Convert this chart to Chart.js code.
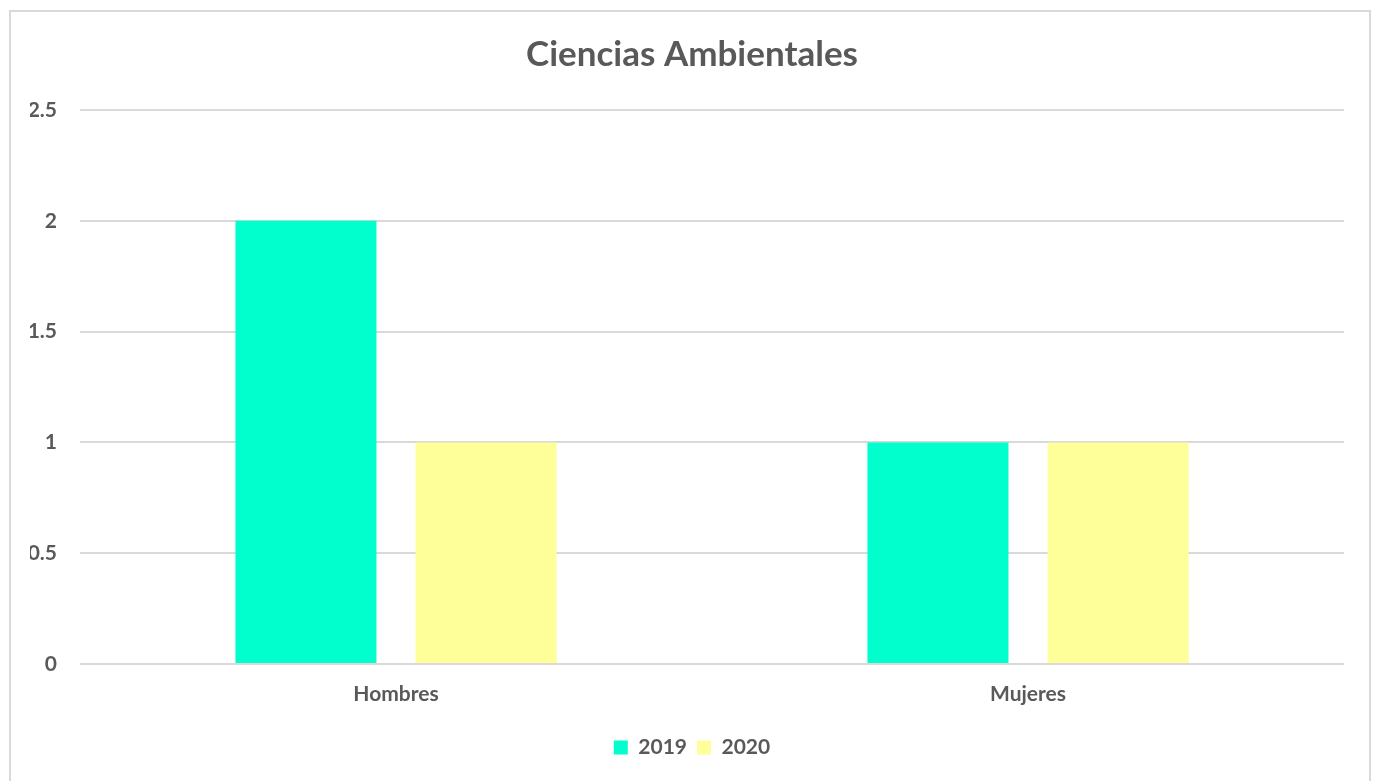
<!DOCTYPE html>
<html>
<head>
<meta charset="utf-8">
<script src="https://cdn.jsdelivr.net/npm/chart.js@4"></script>
<style>
  html, body { margin: 0; padding: 0; background: #fff; overflow: hidden; }
  #frame { position: absolute; left: 9px; top: 10px; width: 1362px; height: 790px; border: 2px solid #d9d9d9; box-sizing: border-box; }
  #wrap { position: absolute; left: 0; top: 0; width: 1377px; height: 781px; }
</style>
</head>
<body>
<div id="frame"></div>
<div id="wrap"><canvas id="chart"></canvas></div>
<script>
// datos del gráfico
const categorias = ['Hombres', 'Mujeres'];
const serie2019 = [2, 1];
const serie2020 = [1, 1];
const etiquetasSeries = ['2019', '2020'];

const gris = '#595959';
const fuente = 'Lato, "Open Sans", sans-serif';

const ctx = document.getElementById('chart').getContext('2d');
new Chart(ctx, {
    type: 'bar',
    data: {
        labels: categorias,
        datasets: [{
            label: etiquetasSeries[0],
            data: serie2019,
            backgroundColor: '#00FFCC',
            barPercentage: 0.783,
            categoryPercentage: 0.57
        }, {
            label: etiquetasSeries[1],
            data: serie2020,
            backgroundColor: '#FFFF99',
            barPercentage: 0.783,
            categoryPercentage: 0.57
        }]
    },
    options: {
        responsive: true,
        maintainAspectRatio: false,
        animation: false,
        layout: {
            padding: { left: 30, right: 23, top: 34, bottom: 13 }
        },
        plugins: {
            title: {
                display: true,
                text: 'Ciencias Ambientales',
                color: gris,
                font: { family: fuente, size: 35, weight: 'bold' },
                padding: { top: 0, bottom: 34 }
            },
            legend: {
                position: 'bottom',
                labels: {
                    color: gris,
                    boxWidth: 14,
                    boxHeight: 14,
                    padding: 10,
                    font: { family: fuente, size: 21, weight: 'bold' }
                }
            },
            tooltip: { enabled: false }
        },
        scales: {
            x: {
                grid: { display: false, drawTicks: false },
                border: { display: false },
                ticks: {
                    color: gris,
                    padding: 18,
                    font: { family: fuente, size: 21, weight: 'bold' }
                },
                afterFit: function(scale) { scale.height = 63; }
            },
            y: {
                min: 0,
                max: 2.5,
                ticks: {
                    stepSize: 0.5,
                    color: gris,
                    padding: 23,
                    font: { family: fuente, size: 21, weight: 'bold' },
                    callback: function(value) { return String(value); }
                },
                grid: { color: '#d9d9d9', lineWidth: 2, drawTicks: false },
                border: { display: false },
                afterFit: function(scale) { scale.width = 50; }
            },
            // eje derecho vacío, solo reserva el margen de la derecha
            margen: {
                type: 'linear',
                position: 'right',
                grid: { display: false, drawTicks: false },
                border: { display: false },
                ticks: { display: false },
                afterFit: function(scale) { scale.width = 10; }
            }
        }
    }
});
</script>
</body>
</html>
